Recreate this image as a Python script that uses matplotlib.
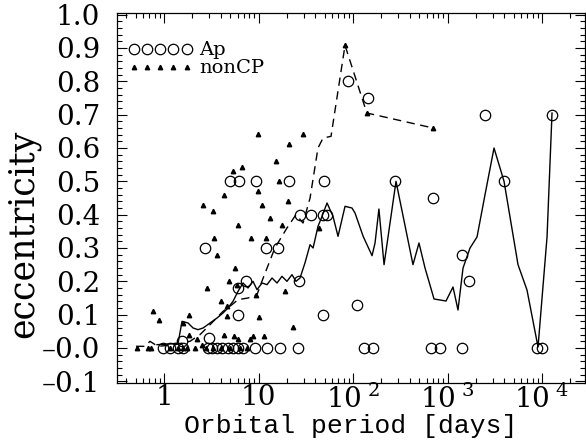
import numpy as np
import matplotlib
matplotlib.use("Agg")
import matplotlib.pyplot as plt
from matplotlib.ticker import FixedLocator, FuncFormatter, LogLocator, NullFormatter

plt.rcParams['font.family'] = 'DejaVu Serif'
plt.rcParams['mathtext.default'] = 'regular'

# Ap stars: orbital period [days], eccentricity
ap_period = [0.98, 1.16, 1.41, 1.59, 2.92, 3.22, 3.64, 4.1, 4.75, 5.37, 6.07, 6.86,
             9.2, 12.3, 16.9, 26.2, 131, 162, 669, 833, 1423, 8850, 10000,
             1.55, 3.0,
             4.99, 6.2, 9.4, 21, 49, 278, 3960,
             27.5, 36, 48, 53,
             2.7, 12, 16, 1420,
             7.4, 6.1, 26.8, 1690,
             6.1, 48, 110, 703,
             88, 144, 2490, 12800]
ap_ecc = [0.0] * 23 + [0.02, 0.03,
          0.5, 0.5, 0.5, 0.5, 0.5, 0.5, 0.5,
          0.4, 0.4, 0.4, 0.4,
          0.3, 0.3, 0.3, 0.28,
          0.2, 0.18, 0.2, 0.2,
          0.1, 0.1, 0.13, 0.45,
          0.8, 0.75, 0.7, 0.7]

# non-CP stars
noncp_period = [5.33, 6.74, 15.3, 16.4, 9.8, 4.31, 2.57, 3.32, 20.7, 10.8, 13.3, 17.7,
                6.11, 3.41, 8.39, 12.0, 3.61, 5.64, 4.87, 5.97, 2.83, 19.2, 9.41, 4.01,
                0.77, 0.885, 1.82, 4.61, 4.67, 10.0, 23.0, 1.58, 9.8, 21.0, 29.8, 43.7,
                82, 140, 708, 2.22, 4.35, 5.5, 6.03, 8.13, 8.81, 11.5, 1.84, 2.52,
                0.52, 0.68, 0.73, 1.16, 1.41, 1.59, 1.75, 2.13, 2.78, 3.30, 4.01,
                4.99, 6.37, 7.55]
noncp_ecc = [0.53, 0.543, 0.56, 0.50, 0.47, 0.46, 0.43, 0.41, 0.44, 0.43, 0.39, 0.37,
             0.37, 0.33, 0.33, 0.33, 0.28, 0.24, 0.20, 0.19, 0.18, 0.17, 0.16, 0.14,
             0.11, 0.085, 0.10, 0.126, 0.096, 0.094, 0.064, 0.074, 0.643, 0.613, 0.643, 0.36,
             0.908, 0.705, 0.66, 0.026, 0.04, 0.035, 0.026, 0.026, 0.035, 0.035, 0.04, 0.01,
             0.0, 0.0, 0.0, 0.0, 0.0, 0.0, 0.0, 0.0, 0.0, 0.0, 0.0,
             0.0, 0.0, 0.0]

# running means
ap_mean_period = [0.843, 1.157, 1.41, 1.55, 1.795, 2.03, 2.29, 2.59, 3.07, 3.64, 4.21,
                  4.75, 5.37, 6.07, 6.86, 7.74, 8.74, 9.64, 10.9, 12.3, 13.9, 15.7, 17.7,
                  20.0, 22.6, 24.9, 27.5, 31.0, 35.1, 37.8, 42.6, 47.0, 53.1, 61.4, 69.4,
                  82.3, 97.5, 105, 128, 159, 171, 188, 213, 285, 431, 499, 578, 720, 964,
                  1143, 1291, 1459, 1730, 2052, 2494, 3105, 3963, 5572, 6934, 9074, 11300,
                  12760]
ap_mean_ecc = [0.01, 0.012, 0.015, 0.08, 0.075, 0.06, 0.055, 0.06, 0.075, 0.09, 0.105,
               0.12, 0.14, 0.17, 0.195, 0.18, 0.2, 0.175, 0.195, 0.19, 0.21, 0.195, 0.215,
               0.2, 0.22, 0.2, 0.21, 0.255, 0.31, 0.30, 0.365, 0.395, 0.435, 0.395, 0.335,
               0.425, 0.42, 0.405, 0.335, 0.277, 0.315, 0.417, 0.25, 0.50, 0.25, 0.315,
               0.24, 0.147, 0.141, 0.183, 0.114, 0.24, 0.30, 0.333, 0.46, 0.60, 0.50,
               0.25, 0.174, 0.003, 0.333, 0.705]

noncp_mean_period = [0.506, 0.63, 0.71, 0.86, 1.31, 1.88, 2.40, 3.07, 4.21, 5.24, 6.07,
                     7.74, 9.64, 11.2, 14.9, 20.0, 24.9, 29.6, 35.1, 42.6, 48.2, 58.5,
                     82.3, 140, 703]
noncp_mean_ecc = [0.005, 0.005, 0.02, 0.005, 0.01, 0.02, 0.04, 0.07, 0.11, 0.13, 0.145,
                  0.15, 0.16, 0.21, 0.30, 0.36, 0.40, 0.375, 0.45, 0.6, 0.63, 0.635,
                  0.908, 0.705, 0.66]

fig = plt.figure(figsize=(5.86, 4.45), dpi=100)
ax = fig.add_axes([117/586, 1 - 383/445, 468/586, 370/445])

ax.plot(ap_mean_period, ap_mean_ecc, '-', color='black', lw=1.0)
ax.plot(noncp_mean_period, noncp_mean_ecc, '--', color='black', lw=1.0, dashes=(6, 4))
ax.plot(ap_period, ap_ecc, 'o', mfc='none', mec='black', mew=0.9, ms=7.5, label='Ap')
ax.plot(noncp_period, noncp_ecc, '^', color='black', ms=3.2, label='nonCP')

ax.set_xscale('log')
ax.set_xlim(0.318, 28500)
ax.set_ylim(-0.105, 1.005)

ax.set_xticks([1, 10, 100, 1000, 10000])
ax.set_xticklabels(['1', '10', '10$^{\\ 2}$', '10$^{\\ 3}$', '10$^{\\ 4}$'])
ax.xaxis.set_minor_locator(LogLocator(base=10, subs=np.arange(2, 10), numticks=20))
ax.xaxis.set_minor_formatter(NullFormatter())

ax.yaxis.set_major_locator(FixedLocator(np.round(np.arange(-0.1, 1.01, 0.1), 2)))
ax.yaxis.set_minor_locator(FixedLocator(np.arange(-0.1, 1.001, 0.02)))
ax.yaxis.set_major_formatter(FuncFormatter(
    lambda v, p: '\u20130.0' if abs(v) < 1e-9 else ('%.1f' % v).replace('-', '\u2013')))

ax.tick_params(which='both', direction='in', top=True, right=True, width=0.8,
               labelsize=20)
ax.tick_params(axis='y', pad=12)
ax.tick_params(axis='x', pad=1)
ax.tick_params(which='major', length=7)
ax.tick_params(which='minor', length=3.5)
for s in ax.spines.values():
    s.set_linewidth(0.9)

ax.set_xlabel('Orbital period [days]', family='Liberation Mono', fontsize=19, labelpad=0)
fig.text(23/586, 1 - 234/445, 'eccentricity', rotation=90, fontsize=25,
         ha='center', va='center')

ax.legend(loc='upper left', bbox_to_anchor=(-0.005, 0.96), numpoints=5, handlelength=3.3,
          handletextpad=0.35, labelspacing=0.0, frameon=False, fontsize=14,
          borderaxespad=0.3)

fig.savefig('out.png', dpi=100)
